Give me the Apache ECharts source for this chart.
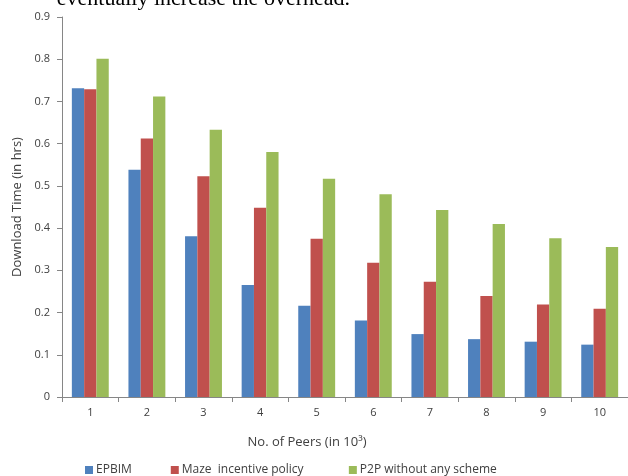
<!DOCTYPE html>
<html>
<head>
<meta charset="utf-8">
<script src="https://cdn.jsdelivr.net/npm/echarts@6/dist/echarts.min.js"></script>
<style>
  html, body { margin: 0; padding: 0; background: #ffffff; }
  #chart { width: 628px; height: 476px; }
</style>
</head>
<body>
<div id="chart"></div>
<script>
// Number of peers (thousands)
const peers = ['1', '2', '3', '4', '5', '6', '7', '8', '9', '10'];

// Download time in hours for each scheme
const epbim = [0.731, 0.538, 0.381, 0.265, 0.216, 0.181, 0.149, 0.137, 0.131, 0.124];
const maze  = [0.729, 0.612, 0.523, 0.448, 0.375, 0.318, 0.273, 0.239, 0.219, 0.209];
const p2p   = [0.801, 0.712, 0.633, 0.580, 0.517, 0.480, 0.443, 0.410, 0.376, 0.355];

const seriesNames = ['EPBIM', 'Maze  incentive policy', 'P2P without any scheme'];
const seriesColors = ['#4F81BD', '#C0504D', '#9BBB59'];

const font = '"Open Sans", "Noto Sans", sans-serif';
const axisGray = '#868686';
const textGray = '#404040';

const chart = echarts.init(document.getElementById('chart'), null, { renderer: 'canvas' });

const makeSeries = (name, data, color) => ({
  name: name,
  type: 'bar',
  data: data,
  barWidth: 12.3,
  barGap: '0%',
  itemStyle: { color: color },
  emphasis: { disabled: true }
});

chart.setOption({
  animation: false,
  backgroundColor: '#ffffff',
  grid: { left: 62, right: 0, top: 17, bottom: 79, containLabel: false },
  title: {
    text: 'No. of Peers (in 10³)',
    left: 302,
    top: 431,
    textAlign: 'center',
    textStyle: { fontFamily: font, fontSize: 13, fontWeight: 'normal', color: textGray }
  },
  legend: {
    left: 80,
    top: 459,
    itemWidth: 8,
    itemHeight: 8,
    itemGap: 39,
    icon: 'rect',
    selectedMode: false,
    // a little extra room after the middle entry
    formatter: name => (name === seriesNames[1] ? name + '  ' : name),
    textStyle: { fontFamily: font, fontSize: 12, color: textGray, padding: [0, 0, 0, -2] },
    data: seriesNames
  },
  graphic: [{
    type: 'text',
    style: {
      x: 350,
      y: 10,
      text: 'eventually increase the overhead.',
      font: '22px "Liberation Serif", "DejaVu Serif", serif',
      fill: '#000000',
      textAlign: 'right',
      textVerticalAlign: 'bottom'
    }
  }],
  xAxis: {
    type: 'category',
    data: peers,
    axisLine: { show: true, lineStyle: { color: axisGray, width: 1 } },
    axisTick: { show: true, alignWithLabel: false, length: 5, lineStyle: { color: axisGray } },
    axisLabel: { fontFamily: font, fontSize: 11, color: textGray, margin: 10 }
  },
  yAxis: {
    type: 'value',
    min: 0,
    max: 0.9,
    interval: 0.1,
    name: 'Download Time (in hrs)',
    nameLocation: 'middle',
    nameGap: 37,
    nameRotate: 90,
    nameTextStyle: { fontFamily: font, fontSize: 13, color: textGray },
    axisLine: { show: true, lineStyle: { color: axisGray, width: 1 } },
    axisTick: { show: true, length: 5, lineStyle: { color: axisGray } },
    splitLine: { show: false },
    axisLabel: {
      fontFamily: font,
      fontSize: 11,
      color: textGray,
      margin: 12,
      formatter: v => (Math.round(v * 10) === 0 ? '0' : (Math.round(v * 10) / 10).toString())
    }
  },
  series: [
    makeSeries(seriesNames[0], epbim, seriesColors[0]),
    makeSeries(seriesNames[1], maze, seriesColors[1]),
    makeSeries(seriesNames[2], p2p, seriesColors[2])
  ]
});
</script>
</body>
</html>
